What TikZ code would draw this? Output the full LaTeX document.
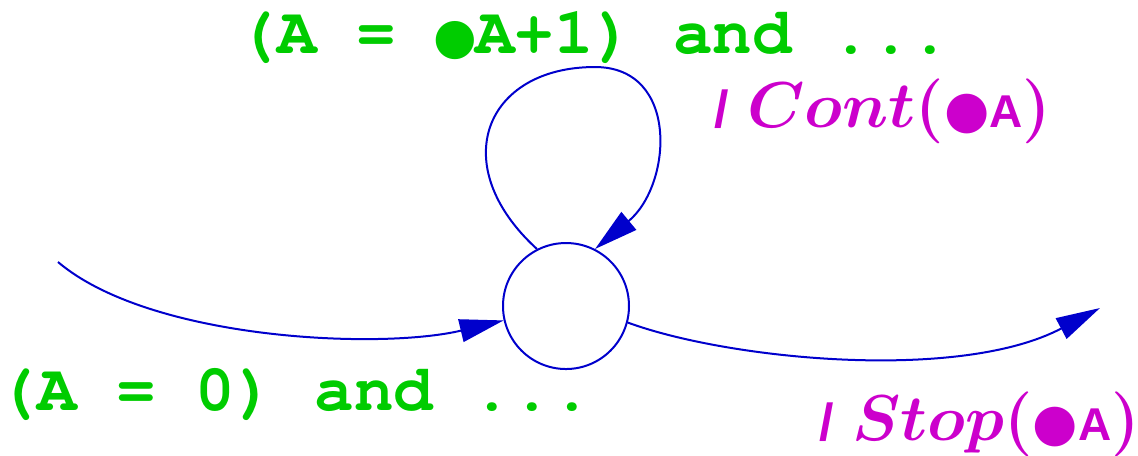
\RequirePackage{fix-cm}
\documentclass[tikz,border=0pt]{standalone}
\usepackage{fontspec}
\newfontfamily\symfont{DejaVu Sans}
\newfontfamily\labelsans{Liberation Sans}
\usetikzlibrary{arrows.meta}
\definecolor{edgeBlue}{HTML}{0000CC}
\definecolor{condGreen}{HTML}{00CC00}
\definecolor{actMag}{HTML}{CC00CC}
\newcommand{\condfont}{\fontencoding{T1}\fontfamily{pcr}\fontseries{b}\fontsize{16.5}{19}\selectfont}
\newcommand{\actsmall}{\labelsans\bfseries\fontsize{11.5}{13}\selectfont}
\newcommand{\actslash}{{\labelsans\bfseries\fontsize{13}{13}\selectfont /}}
\newcommand{\cbul}{\makebox[0.6em]{\symfont\fontsize{12.5}{12}\selectfont ●}}
\newcommand{\abul}{{\symfont\fontsize{13}{13}\selectfont ●}}
\tikzset{
  statenode/.style={draw=edgeBlue, circle, line width=0.5pt, minimum size=31.5pt, inner sep=0pt},
  arr/.style ={draw=edgeBlue, line width=0.5pt, -{Triangle[length=11pt,width=5.75pt]}},
  cond/.style={text=condGreen, font=\condfont, inner sep=0pt, anchor=base west},
  act/.style ={text=actMag, font=\fontsize{16.2}{20}\selectfont\boldmath, inner sep=0pt, anchor=base west},
}
\begin{document}
\begin{tikzpicture}[x=0.25pt, y=-0.25pt]
  \useasboundingbox (0,0) rectangle (1138,455);

  \node[statenode] (s) at (566,306) {};
  \coordinate (in)  at (58,262);
  \coordinate (out) at (1100,308);
  \coordinate (top) at (595,67);

  \draw[arr] (in) .. controls (150,340) and (380,350) .. (s.193);
  \draw[arr] (s.-15) .. controls (730,360) and (960,382) .. (out);
  % self loop over the state
  \draw[arr] (s.117) .. controls (445,165) and (485,67) .. (top)
                     .. controls (680,67) and (672,185) .. (s.63);

  \node[cond] (c1) at (237,53)  {(A = \cbul A+1) and ...};
  \node[cond] (c0) at (-3,410)  {(A = 0) and ...};
  \node[act]  (a1) at (714,127) {\actslash\;$Cont($\abul{\actsmall A}$)$};
  \node[act]  (a0) at (819,440) {\actslash\;$Stop($\abul{\actsmall A}$)$};
\end{tikzpicture}
\end{document}
